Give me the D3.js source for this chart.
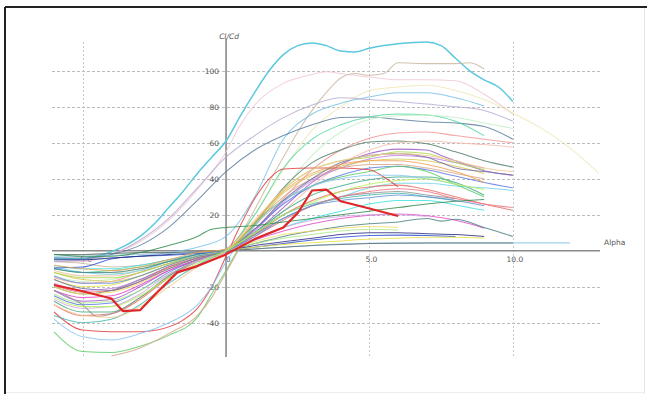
<!DOCTYPE html>
<html><head><meta charset="utf-8">
<script src="https://cdn.jsdelivr.net/npm/d3@7"></script>
<style>html,body{margin:0;padding:0;background:#fff;}svg{display:block;}</style>
</head><body>
<svg id="chart" width="647" height="394"></svg>
<script>
// ---- data ----
const xTickValues = [-5, 0, 5, 10];
const xTickLabels = ["-5.0", "0", "5.0", "10.0"];
const yTickValues = [-40, -20, 20, 40, 60, 80, 100];
const yTickLabels = ["-40", "-20", "20", "40", "60", "80", "100"];
const xTitle = "Alpha";
const yTitle = "Cl/Cd";

// each curve: [alpha, Cl/Cd] points
const curveData = [
 [[-6,-4],[-5,-4.5],[-4.5,-3],[-4,-0.5],[-3.5,3],[-3,8],[-2.5,15],[-2,24],[-1.5,33],[-1,43],[-0.5,52],[0,61],[0.5,75],[1,88],[1.5,100],[2,109],[2.5,114],[3,115.5],[3.5,114],[4,111],[4.5,110.5],[5,112.5],[5.5,114],[6,115],[7,116],[7.5,114],[8,107],[8.5,100],[9,95],[9.5,91],[10,83]],
 [[-6,-6],[-5,-6],[-4,-2],[-3,5],[-2,17],[-1,34],[0,55],[0.5,70],[1,81],[2,93],[3,98],[3.5,99.5],[4,98.5],[5,96.5],[6,95],[7,95],[8,94.5],[9,87],[10,76]],
 [[-6,-6],[-5,-7],[-4,-9],[-3,-8],[-2,-5],[-1,-2],[0,1],[0.5,9],[1,23],[1.5,38],[2,52],[2.5,66],[3,78],[3.5,88],[4,96],[4.5,98.5],[5,97.5],[5.5,98.5],[6,104.5],[7,104],[8,104],[8.5,104.5],[9,101]],
 [[-6,-12],[-5,-14],[-4,-13],[-3,-10],[-2,-6],[-1,-3],[0,0],[1,20],[2,45],[3,67],[4,80],[5,89],[6,91],[7,92],[8,89],[9,84],[10,76.5],[11,68],[12,57],[13,43]],
 [[-6,-5],[-5,-5],[-4,-4],[-3,-3],[-2,-1],[-1,2],[0,8],[1,30],[2,62],[3,76],[4,82],[5,85.5],[6,87.8],[7,87.8],[8,85],[9,80.5]],
 [[-6,-6],[-5,-5],[-4,-2],[-3,6],[-2,18],[-1,35],[0,52],[1,64],[2,74],[3,81],[4,85],[5,84],[6,83],[7,81.5],[8,80],[9,78],[10,72]],
 [[-6,-4],[-5,-4],[-4,-2],[-3,3],[-2,13],[-1,28],[0,44],[1,56],[2,64],[3,70],[4,74],[5,74.3],[6,73],[7,71.7],[8,71],[9,69],[10,62]],
 [[-6,-10],[-5,-12],[-4,-11],[-3,-9],[-2,-6],[-1,-3],[0,1],[1,20],[2,46],[3,62],[4,70],[5,74.5],[6,76],[7,75.5],[8,72],[9,64]],
 [[-6,-14],[-5,-17],[-4,-16],[-3,-12],[-2,-7],[-1,-3],[0,0],[1,14],[2,34],[3,53],[4,66],[5,73],[6,75],[7,75.5],[8,74],[9,71],[10,68]],
 [[-6,-15],[-5,-18],[-4,-17],[-3,-12],[-2,-7],[-1,-3],[0,0],[1,12],[2,29],[3,45],[4,56],[5,62.5],[6,65.5],[7,66],[8,64],[9,62],[10,60]],
 [[-6,-20],[-5,-24],[-4,-22],[-3,-16],[-2,-9],[-1,-4],[0,0],[1,15],[2,35],[3,49],[4,56],[5,60.5],[6,61],[7,59.5],[8,55],[9,50],[10,46.5]],
 [[-6,-11],[-5,-14],[-4,-14],[-3,-11],[-2,-6],[-1,-2],[0,1],[1,10],[2,22],[3,36],[4,48],[5,56],[6,60],[7,61],[8,60],[9,59],[10,57.5]],
 [[-6,-22],[-5,-28],[-4,-27],[-3,-20],[-2,-11],[-1,-5],[0,-1],[1,10],[2,24],[3,38],[4,48],[5,54],[6,56.5],[7,56],[7.5,53],[8,50],[9,44.5],[10,42]],
 [[-6,-18],[-5,-22],[-4,-21],[-3,-16],[-2,-9],[-1,-4],[0,0],[1,11],[2,27],[3,39],[4,46],[5,51],[6,53],[7,52],[8,49],[9,46]],
 [[-6,-25],[-5,-30],[-4,-29],[-3,-22],[-2,-12],[-1,-5],[0,0],[1,12],[2,26],[3,36],[4,42],[5,46],[6,47],[7,45],[8,41.5],[9,38],[10,35]],
 [[-6,-12],[-5,-16],[-4,-17],[-3,-14],[-2,-8],[-1,-3],[0,0],[1,14],[2,32],[3,42],[4,47],[5,50],[6,51],[7,50],[8,47],[9,43]],
 [[-6,-28],[-5,-34],[-4,-34],[-3,-26],[-2,-14],[-1,-6],[0,0],[1,10],[2,22],[3,31],[4,36],[5,39.5],[6,41],[7,41],[8,38],[9,31]],
 [[-6,-9],[-5,-12],[-4,-13],[-3,-11],[-2,-6],[-1,-2],[0,1],[1,9],[2,18],[3,25],[4,30],[5,35],[6,37.5],[7,37.5],[8,36],[9,35],[10,33.5]],
 [[-6,-30],[-5,-36],[-4,-35],[-3,-27],[-2,-15],[-1,-6],[0,0],[1,9],[2,20],[3,28],[4,33],[5,35.5],[6,36.5],[7,34],[8,30],[9,26],[10,22.5]],
 [[-6,-45],[-5,-56],[-4,-56.5],[-3,-53],[-2,-47],[-1,-37],[-0.5,-24],[0,-11],[0.5,3],[1,15],[2,28],[3,36],[4,41],[5,44],[6,47],[7,44],[8,37],[9,30]],
 [[-6,-8],[-5,-10],[-4,-10],[-3,-8],[-2,-5],[-1,-2],[0,0],[1,6],[2,13],[3,18],[4,22],[5,26],[6,28],[7,28],[8,25.5],[9,22.5]],
 [[-6,-22],[-5,-26],[-4,-25],[-3,-19],[-2,-11],[-1,-5],[0,0],[1,6],[2,11],[3,15],[4,18],[5,19.8],[6,20.5],[7,19.5],[8,17],[8.5,15],[9,12.5]],
 [[-6,-10],[-5,-12],[-4,-12],[-3,-10],[-2,-6],[-1,-2],[0,0],[1,4],[2,8],[3,11],[4,13.5],[5,15],[6,16],[7,18],[7.5,16.5],[8,17.5],[9,13],[10,8]],
 [[-6,-34],[-5,-44],[-4,-45],[-3,-45],[-2.4,-44],[-1.5,-38.5],[-1,-32],[-0.5,-20],[0,-3],[0.5,14],[1,29],[1.5,40],[2,45.5],[3,46],[4,46],[5,45],[5.5,41],[6,35.5]],
 [[-6,-9.5],[-5,-9],[-4,-4.5],[-3,-3],[-2,-2.5],[-1,-1.5],[0,0],[1,2],[2,4],[3,6],[4,7.5],[5,8.5],[6,8.7],[7,8.5],[8,8]],
 [[-6,-5],[-5,-5],[-4,-4],[-3,-3],[-2,-2],[-1,-1],[0,0],[1,3],[2,5],[3,7],[4,9],[5,10],[6,10],[7,9.5],[8,9],[9,8]],
 [[-6,-16],[-5,-20],[-4,-19],[-3,-14],[-2,-8],[-1,-3],[0,0],[1,2],[2,3.5],[3,4.5],[4,5.5],[5,6.5],[6,7],[7,7.5],[8,7.5],[9,7]],
 [[-6,-3],[-5,-3],[-4,-2.5],[-3,-2],[-2,-1.5],[-1,-1],[0,0],[1,1],[2,2],[3,3],[4,3.8],[5,4.2],[6,4.4],[8,4.4],[10,4.4],[12,4.4]],
 [[-6,-2],[-5,-2],[-4,-1.5],[-3,-1],[-2,-1],[-1,-0.5],[0,0],[1,1],[2,2],[3,3],[4,3.5],[5,4],[6,4.2],[8,4.3],[10,4.3]],
 [[-6,-24],[-5,-29],[-4,-28],[-3,-22],[-2,-13],[-1,-6],[0,0],[1,4],[2,7],[3,9],[4,11],[5,12],[6,11.5]],
 [[-6,-20],[-5,-24],[-4,-23],[-3,-18],[-2,-10],[-1,-4],[0,0],[1,5],[2,9],[3,11],[4,12.5],[5,13.5],[6,13]],
 [[-6,-27],[-5,-32],[-4,-31],[-3,-24],[-2,-13],[-1,-6],[0,0],[1,7],[2,13],[3,17],[4,19],[5,20],[6,20],[7,19]],
 [[-6,-22],[-5,-30],[-4.5,-36.5],[-4,-35],[-3,-26],[-2,-14],[-1,-5],[0,0],[1,9],[2,18],[3,25],[4,30],[5,32],[6,33],[7,31],[8,29]],
 [[-4,-58.5],[-3,-54],[-2,-46],[-1,-36],[-0.5,-26],[0,-12],[0.5,2],[1,14],[2,30],[3,40],[4,46],[5,48],[6,48],[7,46],[8,43],[9,40]],
 [[-6,-38],[-5,-47.8],[-4,-49.5],[-3,-46],[-2,-40],[-1,-30],[-0.5,-20],[0,-6],[1,14],[2,28],[3,36],[4,40],[5,42],[6,42],[7,40],[8,37]],
 [[-6,-36],[-5,-40],[-4,-38],[-3,-30],[-2,-18],[-1,-8],[0,0],[1,10],[2,20],[3,26],[4,29],[5,31],[6,32],[7,30],[8,28]],
 [[-6,-19],[-5,-23],[-4,-22],[-3,-17],[-2,-9],[-1,-4],[0,0],[1,8],[2,17],[3,25],[4,30],[5,33],[6,34.5],[7,33],[8,29],[9,26],[10,24]],
 [[-6,-16],[-5,-21],[-4,-22],[-3,-17],[-2,-10],[-1,-4],[0,0],[1,12],[2,28],[3,40],[4,49],[5,53],[6,54],[7,52],[7.5,49],[8,46],[9,44],[10,42]],
 [[-6,-12],[-5,-15],[-4,-15],[-3,-12],[-2,-7],[-1,-3],[0,0],[1,16],[2,34],[3,45],[4,50],[5,52],[6,55],[7,54],[8,49],[9,45]],
 [[-6,-8],[-5,-10],[-4,-11],[-3,-9],[-2,-5],[-1,-1],[0,1],[1,16],[2,33],[3,43],[4,48],[5,50],[6,50],[7,48],[8,44],[9,38]],
 [[-6,-14],[-5,-18],[-4,-18],[-3,-14],[-2,-8],[-1,-3],[0,0],[1,8],[2,18],[3,25],[4,28],[5,29.5],[6,31],[7,30],[8,28],[9,25]],
 [[-6,-2],[-5,-3],[-4,-3],[-3,-1],[-2,3],[-1,8],[-0.5,12],[0,13],[1,14],[2,16],[3,18],[4,20],[5,22],[6,24],[7,26],[8,27.5],[9,28.5]],
 [[-6,-30],[-5,-36],[-4,-37],[-3,-31],[-2,-20],[-1,-9],[0,0],[1,17],[2,34],[3,45],[4,50],[5,53],[6,54],[7,53],[8,50],[9,46],[10,44]],
 [[-6,-26],[-5,-31],[-4,-31],[-3,-25],[-2,-15],[-1,-7],[0,0],[1,10],[2,20],[3,27],[4,33],[5,37],[6,39],[7,40],[8,37],[9,34]],
 [[-6,-19],[-5,-22.5],[-4,-26.5],[-3.6,-33.5],[-3,-33],[-2.4,-23],[-1.7,-12],[-1,-8.5],[0,-2],[1,6.5],[2,13],[2.5,21],[3,33.5],[3.5,34],[4,27.5],[5,23.5],[6,19.3]]
];

// ---- styles (separate from data) ----
const curveColors = ["#5cc8de","#efc6d2","#c9b59e","#eee6b4","#78c0e6","#b4aad2","#5a7c9c","#4cd69a","#c4eec4","#f29494",
 "#4e7e66","#f4bcae","#9a56c4","#c67ee6","#5a76e0","#d8c858","#3eaa82","#66d2e4","#e46a60","#5ccc6a",
 "#3ee0e0","#e04cc8","#4a8080","#e03a3a","#2c4ed0","#2a2a80","#e6e040","#8cc8e8","#5c6c6c","#a8e88a",
 "#f0dc60","#d0a8e8","#909090","#d4a488","#88c4f0","#46b8b0","#f07080","#7070a0","#a8d848","#f0a050",
 "#6090d8","#2e8a4a","#f6c890","#b4f05a","#e02626"];

const W = 647, H = 394;
const svg = d3.select("#chart");

const x = d3.scaleLinear().domain([-6.07, 13.04]).range([52, 600]);
const y = d3.scaleLinear().domain([-59, 116]).range([357, 42]);

// frame
svg.append("line").attr("x1",5).attr("x2",W).attr("y1",7).attr("y2",7).attr("stroke","#222").attr("stroke-width",2);
svg.append("line").attr("x1",5).attr("x2",5).attr("y1",7).attr("y2",H).attr("stroke","#222").attr("stroke-width",2);
svg.append("line").attr("x1",644.5).attr("x2",644.5).attr("y1",8).attr("y2",H).attr("stroke","#e4e4e4").attr("stroke-width",1);
svg.append("line").attr("x1",6).attr("x2",645).attr("y1",392.5).attr("y2",392.5).attr("stroke","#ececec").attr("stroke-width",1);

// grid
const g = svg.append("g");
g.selectAll(".hg").data(yTickValues).enter().append("line")
  .attr("x1", x(-6.07)).attr("x2", x(13.1))
  .attr("y1", d => Math.round(y(d)) + 0.5).attr("y2", d => Math.round(y(d)) + 0.5)
  .attr("stroke", "#bcbcbc").attr("stroke-width", 1).attr("stroke-dasharray", "3,2");
g.selectAll(".vg").data(xTickValues.filter(d => d !== 0)).enter().append("line")
  .attr("x1", d => Math.round(x(d)) + 0.5).attr("x2", d => Math.round(x(d)) + 0.5)
  .attr("y1", y(116)).attr("y2", y(-59))
  .attr("stroke", "#c8c8c8").attr("stroke-width", 1).attr("stroke-dasharray", "2,2");

// axes lines
g.append("line").attr("x1", x(-6.07)).attr("x2", x(13.04)).attr("y1", y(0)).attr("y2", y(0))
  .attr("stroke", "#8a8a8a").attr("stroke-width", 1.6);
g.append("line").attr("x1", x(0)).attr("x2", x(0)).attr("y1", y(118)).attr("y2", y(-59))
  .attr("stroke", "#8a8a8a").attr("stroke-width", 1.6);

// tick labels
const font = "DejaVu Sans, Verdana, sans-serif";
g.selectAll(".yl").data(yTickValues).enter().append("text")
  .attr("x", x(0) - 7).attr("y", d => y(d) + 3)
  .attr("text-anchor", "end").attr("font-family", font).attr("font-size", 7.5).attr("fill", "#555")
  .text((d,i) => yTickLabels[i]);
g.selectAll(".xl").data(xTickValues).enter().append("text")
  .attr("x", d => x(d) + 2).attr("y", y(0) + 11)
  .attr("text-anchor", "middle").attr("font-family", font).attr("font-size", 7.5).attr("fill", "#555")
  .text((d,i) => xTickLabels[i]);
g.append("text").attr("x", x(0) + 3).attr("y", 39).attr("text-anchor", "middle")
  .attr("font-family", font).attr("font-size", 7.5).attr("font-style", "italic").attr("fill", "#555").text(yTitle);
g.append("text").attr("x", 604).attr("y", y(0) - 6).attr("font-family", font).attr("font-size", 7.5)
  .attr("fill", "#555").text(xTitle);

// curves
const line = d3.line().x(d => x(d[0])).y(d => y(d[1])).curve(d3.curveMonotoneX);
const lineLin = d3.line().x(d => x(d[0])).y(d => y(d[1]));
const last = curveData.length - 1;
svg.append("g").selectAll("path").data(curveData).enter().append("path")
  .attr("d", (d,i) => i === last ? lineLin(d) : line(d))
  .attr("fill", "none")
  .attr("stroke", (d,i) => curveColors[i])
  .attr("stroke-width", (d,i) => i === last ? 2.2 : (i === 0 ? 1.5 : 1.05))
  .attr("stroke-opacity", (d,i) => i === last || i === 0 ? 1 : 0.82)
  .attr("stroke-linejoin", "round");
</script>
</body></html>
